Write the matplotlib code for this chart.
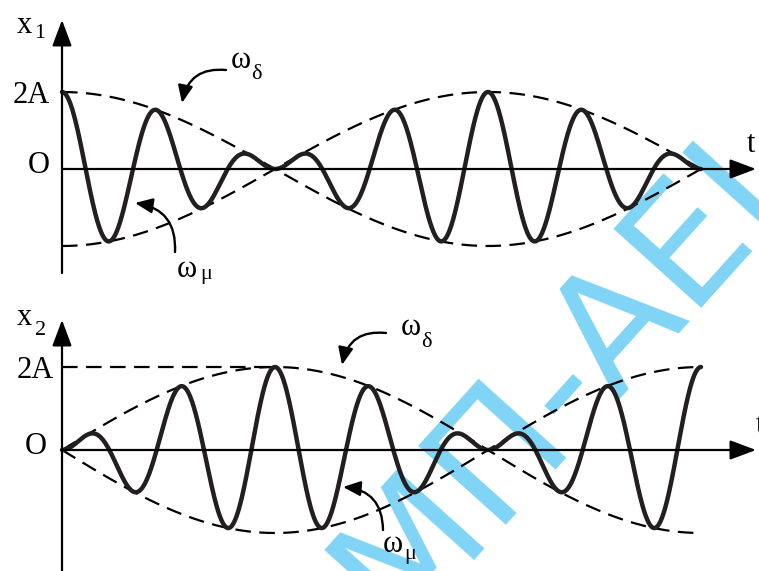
import numpy as np
import matplotlib.pyplot as plt

plt.rcParams['font.family'] = ['Liberation Serif', 'DejaVu Serif']

# beat parameters (A = 1, so 2A = 2)
amp = 2.0              # 2A
w_delta = 1.0          # envelope frequency, omega_delta
w_mu = 9.0             # carrier frequency, omega_mu
t_end = 1.5 * np.pi    # both traces run for three half-beats
t_flat = 0.5 * np.pi   # x2 first reaches 2A here

level_labels = ['2A', 'O']
watermark = 'ΕΜΠ-ΑΕΙ'

W, H = 759, 571
fig = plt.figure(figsize=(W / 100, H / 100), dpi=100)

x0 = 62         # pixel column of both vertical axes
px_t = 135.6    # pixels per unit of t

def pixel_axes(z):
    ax = fig.add_axes([0, 0, 1, 1], zorder=z)
    ax.set_xlim(0, W)
    ax.set_ylim(H, 0)
    ax.axis('off')
    return ax

def panel(row_px, px_x, z):
    # data axes whose origin sits at (x0, row_px) in figure pixels
    ax = fig.add_axes([0, 0, 1, 1], zorder=z)
    ax.set_xlim(-x0 / px_t, (W - x0) / px_t)
    ax.set_ylim((row_px - H) / px_x, row_px / px_x)
    ax.axis('off')
    return ax

def arrow_line(ax, start, end):
    ax.annotate('', xy=end, xytext=start,
                arrowprops=dict(arrowstyle='-|>,head_length=0.8,head_width=0.3',
                                mutation_scale=20, lw=1.6, color='black',
                                shrinkA=0, shrinkB=0))

def curved_pointer(ax, tail, tip, rad=0.45):
    ax.annotate('', xy=tip, xytext=tail,
                arrowprops=dict(arrowstyle='-|>,head_length=0.7,head_width=0.3',
                                mutation_scale=15, lw=1.7, color='black',
                                connectionstyle=f'arc3,rad={rad}',
                                shrinkA=0, shrinkB=0))

bg = pixel_axes(0)
ov = pixel_axes(1)
ax1 = panel(169, 38.5, 2)
ax2 = panel(450, 41.5, 3)

# faint stamp behind everything
bg.text(524, 420, watermark, rotation=48, rotation_mode='anchor',
        ha='center', va='center', fontsize=117, color='#80d4f6',
        family='DejaVu Sans')

t = np.linspace(0, t_end, 2000)
env1 = amp * np.cos(w_delta * t)
x1 = env1 * np.cos(w_mu * t)
env2 = amp * np.sin(w_delta * t)
x2 = env2 * np.sin(w_mu * t)

wave_kw = dict(color='#231f20', lw=3.2, solid_capstyle='round')
dash_kw = dict(color='black', lw=1.6, linestyle=(0, (7, 3.8)))

# x1: starts at 2A, node at pi/2
ax1.plot(t, env1, **dash_kw)
ax1.plot(t, -env1, **dash_kw)
ax1.plot(t, x1, **wave_kw)
arrow_line(ax1, (0, 0), ((756 - x0) / px_t, 0))
arrow_line(ax1, (0, (169 - 273) / 38.5), (0, (169 - 20) / 38.5))

# x2: starts at 0, reaches 2A at pi/2, node at pi
ax2.plot([0, t_flat], [amp, amp], **dash_kw)
ax2.plot(t, env2, **dash_kw)
ax2.plot(t, -env2, **dash_kw)
ax2.plot(t, x2, **wave_kw)
arrow_line(ax2, (0, 0), ((756 - x0) / px_t, 0))
arrow_line(ax2, (0, (450 - 575) / 41.5), (0, (450 - 320) / 41.5))

# level labels on the vertical axes
for ax, dx_amp, dx_o in [(ax1, -12, -12), (ax2, -8, -15)]:
    ax.annotate(level_labels[0], xy=(0, amp), xytext=(dx_amp, -11),
                textcoords='offset pixels', ha='right', va='baseline', fontsize=22)
    ax.annotate(level_labels[1], xy=(0, 0), xytext=(dx_o, -4),
                textcoords='offset pixels', ha='right', va='baseline', fontsize=22)

big, small = 22, 16
txt = dict(ha='left', va='baseline')
# axis names
ov.text(17, 33, 'x', fontsize=big, **txt)
ov.text(34, 38, '1', fontsize=small, **txt)
ov.text(747, 152, 't', fontsize=big, **txt)
ov.text(17, 325, 'x', fontsize=big, **txt)
ov.text(35, 335, '2', fontsize=small, **txt)
ov.text(756, 433, 't', fontsize=big, **txt)

# frequency tags with pointers
ov.text(231, 68, 'ω', fontsize=big, **txt)
ov.text(251, 79, 'δ', fontsize=small, **txt)
curved_pointer(ov, (226, 70), (182, 103))
ov.text(177, 277, 'ω', fontsize=big, **txt)
ov.text(200, 279, 'μ', fontsize=small, **txt)
curved_pointer(ov, (175, 252), (135, 203))

ov.text(401, 335, 'ω', fontsize=big, **txt)
ov.text(421, 347, 'δ', fontsize=small, **txt)
curved_pointer(ov, (386, 333), (342, 365))
ov.text(383, 552, 'ω', fontsize=big, **txt)
ov.text(404, 559, 'μ', fontsize=small, **txt)
curved_pointer(ov, (383, 530), (343, 487))

fig.savefig('out.png', dpi=100)
